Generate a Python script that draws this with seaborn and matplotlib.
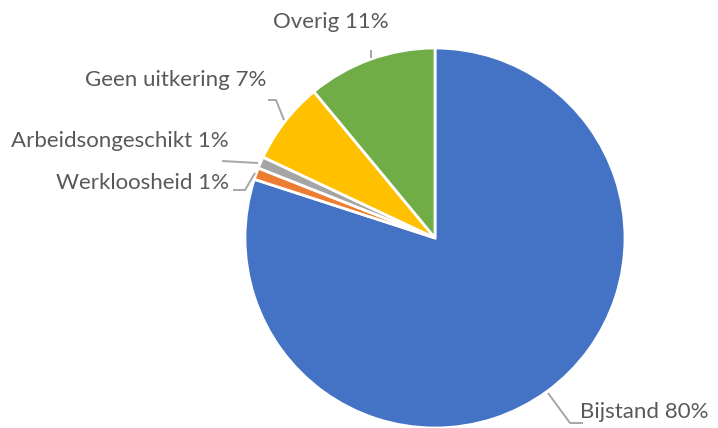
import matplotlib
matplotlib.use("Agg")
import matplotlib.pyplot as plt
import seaborn as sns

sns.set_style("white")
plt.rcParams['font.family'] = ['Lato', 'DejaVu Sans']

categories = ["Bijstand", "Werkloosheid", "Arbeidsongeschikt", "Geen uitkering", "Overig"]
values = [80, 1, 1, 7, 11]
colors = ["#4472C4", "#ED7D31", "#A5A5A5", "#FFC000", "#70AD47"]

W, H = 718, 428
fig = plt.figure(figsize=(W / 100, H / 100), dpi=100)
ax = fig.add_axes([0, 0, 1, 1])

cx, cy, r = 435, H - 238, 190
ax.pie(values, colors=colors, startangle=90, counterclock=False,
       center=(cx, cy), radius=r, frame=True,
       wedgeprops=dict(edgecolor='white', linewidth=2))
ax.set_xlim(0, W)
ax.set_ylim(0, H)
ax.set_aspect('equal')
ax.axis('off')

def P(x, y):
    return x, H - y

labels = [f"{c} {v}%" for c, v in zip(categories, values)]
label_pos = [((580, 412), 'left'),
             ((229, 183), 'right'),
             ((229, 141), 'right'),
             ((266, 80), 'right'),
             ((331, 22), 'center')]
leaders = [[(548, 393), (570, 423), (583, 423)],
           [(255, 173), (245, 190), (233, 190)],
           [(258, 163), (222, 161)],
           [(284, 120), (276, 100), (268, 100)],
           [(371, 58), (371, 50)]]

tc = "#595959"
for lab, ((x, y), ha), pts in zip(labels, label_pos, leaders):
    ax.text(*P(x, y), lab, ha=ha, va='center', fontsize=16, color=tc)
    xs = [p[0] for p in pts]
    ys = [H - p[1] for p in pts]
    ax.plot(xs, ys, color="#A6A6A6", lw=1.4, solid_capstyle='butt')

fig.savefig("out.png", dpi=100)
